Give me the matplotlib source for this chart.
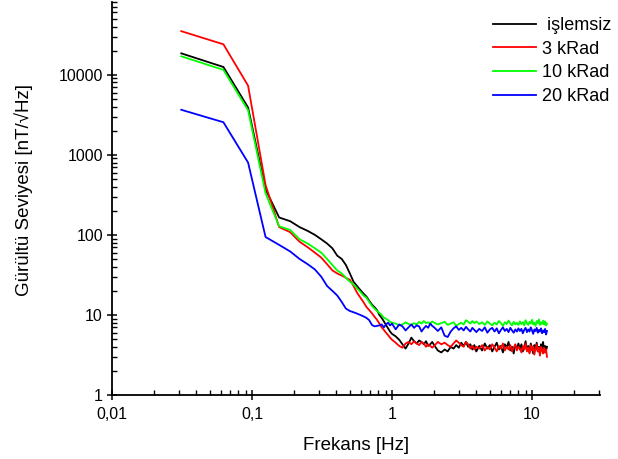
import matplotlib
matplotlib.use('Agg')
import matplotlib.pyplot as plt
from matplotlib.ticker import FixedLocator, FuncFormatter, LogLocator, NullFormatter

plt.rcParams['font.family'] = ['Liberation Sans', 'DejaVu Sans']

# frekans noktalari [Hz]
freq = [0.03125, 0.0625, 0.09375, 0.125, 0.15625, 0.1875, 0.21875, 0.25,
        0.28125, 0.3125, 0.34375, 0.375, 0.40625, 0.4375, 0.46875, 0.5,
        0.53125, 0.5625, 0.59375, 0.625, 0.65625, 0.6875, 0.71875, 0.75,
        0.78125, 0.8125, 0.84375, 0.875, 0.90625, 0.9375, 0.96875, 1.0,
        1.0625, 1.125, 1.1875, 1.25, 1.3125, 1.375, 1.4375, 1.5,
        1.5625, 1.625, 1.6875, 1.75, 1.8125, 1.875, 1.9375, 2.0,
        2.125, 2.25, 2.375, 2.5, 2.625, 2.75, 2.875, 3.0,
        3.125, 3.25, 3.375, 3.5, 3.625, 3.75, 3.875, 4.0,
        4.2, 4.4, 4.6, 4.8, 5.0, 5.2, 5.4, 5.6, 5.8, 6.0,
        6.2, 6.4, 6.6, 6.8, 7.0, 7.2, 7.4, 7.6, 7.8, 8.0,
        8.2, 8.4, 8.6, 8.8, 9.0, 9.2, 9.4, 9.6, 9.8, 10.0, 10.2, 10.4,
        10.6, 10.8, 11.0, 11.2, 11.4, 11.6, 11.8, 12.0, 12.2, 12.4, 12.6, 12.8]

islemsiz = [18500, 12500, 3900, 370, 165, 148, 125, 112,
            100, 88, 78, 68, 55, 50, 42, 33,
            26, 23, 20.5, 18.5, 17, 15, 13.5, 12.5,
            11.5, 10, 9.2, 8.3, 7.5, 6.8, 6.2, 5.8,
            5.4, 4.9, 4.3, 3.8, 4.4, 5.2, 4.7, 4.4, 4.8, 4.6, 4.3, 4.7, 4.1, 4.3, 4.6, 4.2,
            3.6, 3.4, 3.7, 3.5, 4.0, 3.8, 4.2, 3.9, 4.5, 4.1, 4.6, 4.0, 4.3, 3.7, 4.2, 3.5,
            4.1, 3.6, 4.4, 3.8, 4.2, 3.5, 4.0, 4.5, 3.7, 4.1, 3.4, 4.3, 3.9, 4.6, 3.6, 4.0, 3.3, 4.2, 3.8, 4.4,
            3.7, 4.3, 3.5, 4.0, 4.7, 3.6, 4.1, 3.4, 4.4, 3.9, 3.3, 4.2, 3.7, 4.5, 3.5, 4.0, 3.2, 4.3, 3.8, 4.6, 3.4, 4.1, 3.6, 4.0]

krad3 = [35000, 24000, 7300, 420, 125, 108, 82, 70,
         60, 52, 43, 36, 33, 31, 29, 27.5,
         23, 19, 16.5, 14.5, 12.6, 11.5, 10.5, 9.5,
         8.7, 7.8, 7.0, 6.5, 6.0, 5.6, 5.2, 4.9,
         4.5, 4.1, 3.9, 4.4, 4.6, 4.3, 4.7, 4.4, 4.2, 4.6, 4.4, 4.0, 4.3, 4.1, 3.9, 4.1,
         4.6, 4.3, 4.5, 4.2, 4.0, 4.4, 4.8, 4.5, 4.2, 4.0, 4.6, 4.3, 3.8, 4.1, 3.7, 4.0,
         3.8, 4.2, 3.6, 4.0, 3.7, 4.3, 3.9, 3.5, 4.1, 3.8, 4.4, 3.6, 4.0, 3.7, 4.2, 3.5, 3.9, 4.3, 3.6, 4.0,
         3.8, 3.4, 4.1, 3.7, 4.4, 3.5, 3.9, 3.3, 4.2, 3.6, 4.0, 3.2, 3.8, 4.3, 3.5, 3.9, 3.1, 4.0, 3.6, 3.3, 3.9, 3.4, 3.7, 3.0]

krad10 = [17000, 11500, 3600, 330, 128, 115, 88, 78,
          68, 60, 50, 42, 36, 33, 29, 26,
          24, 21.5, 19.5, 17.5, 16.4, 14.5, 13, 12,
          11.2, 10.6, 10, 9.2, 9.0, 8.6, 8.2, 8.0,
          7.8, 7.4, 7.6, 8.1, 7.7, 7.5, 7.9, 7.6, 8.2, 7.8, 8.4, 7.9, 8.1, 7.7, 8.3, 8.0,
          7.6, 7.9, 8.2, 7.5, 7.8, 8.1, 7.3, 7.7, 8.0, 7.6, 8.6, 8.2, 7.8, 8.4, 7.9, 8.3,
          7.7, 8.1, 7.5, 8.3, 7.8, 7.4, 8.0, 7.6, 8.4, 7.9, 7.3, 8.1, 7.7, 8.5, 7.8, 7.4, 8.2, 7.6, 8.0, 7.5,
          8.3, 7.7, 8.1, 7.4, 8.6, 7.9, 7.5, 8.2, 7.8, 8.7, 7.6, 8.0, 7.3, 8.4, 7.9, 8.8, 7.5, 8.1, 7.7, 8.5, 7.6, 8.3, 7.4, 7.8]

krad20 = [3650, 2550, 800, 94, 75, 62, 50, 43,
          37, 30, 23, 20, 17.5, 14.5, 12, 11.2,
          10.8, 10.4, 10.0, 9.6, 9.2, 8.6, 7.5, 7.2,
          7.3, 7.4, 7.6, 7.0, 7.6, 8.0, 7.4, 7.8,
          6.6, 7.6, 7.2, 6.4, 7.0, 7.6, 6.9, 7.4, 7.2, 6.2, 6.8, 7.3, 6.9, 7.8, 7.3, 7.0,
          6.3, 7.0, 5.5, 5.3, 6.2, 6.8, 7.2, 6.5, 6.9, 6.4, 7.1, 6.6, 6.2, 6.9, 6.5, 6.1,
          6.7, 6.3, 7.0, 6.0, 6.6, 6.9, 6.2, 6.8, 5.9, 6.5, 7.0, 6.3, 6.7, 6.1, 6.9, 6.4, 6.0, 6.6, 6.2, 6.8,
          6.3, 6.7, 5.9, 6.5, 6.9, 6.1, 6.6, 6.2, 7.0, 6.4, 5.8, 6.6, 6.3, 6.9, 6.0, 6.5, 6.2, 6.8, 5.9, 6.4, 6.1, 6.7, 5.7, 6.3]

series = [(' işlemsiz', islemsiz, 'black'),
          ('3 kRad', krad3, '#ff0000'),
          ('10 kRad', krad10, '#00ff00'),
          ('20 kRad', krad20, '#0000ff')]

fig = plt.figure(figsize=(6.18, 4.59), dpi=100)
ax = fig.add_axes([112 / 618, 1 - 395 / 459, 488 / 618, 393 / 459])

for name, vals, col in series:
    ax.plot(freq, vals, color=col, lw=1.3, label=name)

ax.set_xscale('log')
ax.set_yscale('log')
ax.set_xlim(0.01, 30.6)
ax.set_ylim(1, 81000)

def virgul(v, pos):
    s = ('%g' % v).replace('.', ',')
    return s

ax.xaxis.set_major_locator(FixedLocator([0.01, 0.1, 1, 10]))
ax.yaxis.set_major_locator(FixedLocator([1, 10, 100, 1000, 10000]))
ax.xaxis.set_major_formatter(FuncFormatter(virgul))
ax.yaxis.set_major_formatter(FuncFormatter(virgul))
ax.xaxis.set_minor_locator(LogLocator(base=10, subs=range(2, 10), numticks=20))
ax.yaxis.set_minor_locator(LogLocator(base=10, subs=range(2, 10), numticks=20))
ax.xaxis.set_minor_formatter(NullFormatter())
ax.yaxis.set_minor_formatter(NullFormatter())

ax.tick_params(which='major', direction='inout', length=7, width=1.1, labelsize=11.5, pad=3)
ax.tick_params(axis='x', which='major', pad=5)
ax.tick_params(which='minor', direction='in', length=3.5, width=1.0)
for s in ['top', 'right']:
    ax.spines[s].set_visible(False)
for s in ['left', 'bottom']:
    ax.spines[s].set_linewidth(1.3)

ax.set_xlabel('Frekans [Hz]', fontsize=13.5, labelpad=11)
fig.text(24 / 618, 1 - 190 / 459, 'Gürültü Seviyesi [nT/√Hz]', rotation=90,
         ha='center', va='center', fontsize=13.5)

ax.legend(loc='upper left', bbox_to_anchor=(493 / 618, 1 - 17 / 459),
          bbox_transform=fig.transFigure, frameon=False, fontsize=13,
          handlelength=2.4, handletextpad=0.3, labelspacing=0.37, borderaxespad=0,
          borderpad=0)

fig.savefig('out.png', dpi=100)
